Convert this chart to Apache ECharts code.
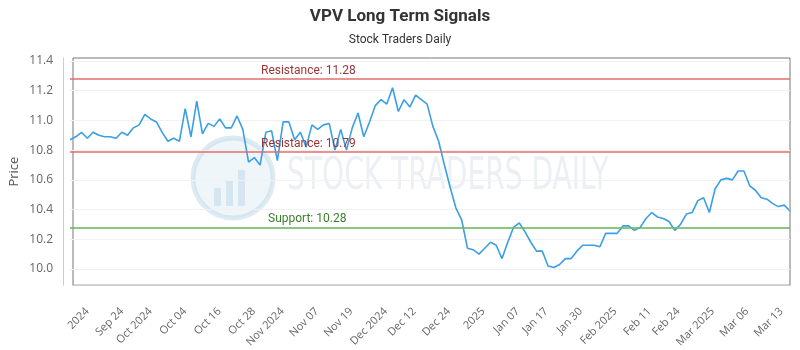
<!DOCTYPE html>
<html>
<head>
<meta charset="utf-8">
<title>VPV Long Term Signals</title>
<script src="https://cdn.jsdelivr.net/npm/echarts@6/dist/echarts.min.js"></script>
<style>
  html, body { margin: 0; padding: 0; background: #fff; }
  #main { width: 800px; height: 350px; }
</style>
</head>
<body>
<div id="main"></div>
<script>
// closing prices, one per trading day
var prices = [
  10.87, 10.89, 10.92, 10.88, 10.92, 10.90, 10.89, 10.89, 10.88, 10.92,
  10.90, 10.95, 10.97, 11.04, 11.01, 10.99, 10.92, 10.86, 10.88, 10.86,
  11.08, 10.89, 11.13, 10.91, 10.98, 10.96, 11.01, 10.95, 10.95, 11.03,
  10.94, 10.72, 10.75, 10.70, 10.92, 10.93, 10.73, 10.99, 10.99, 10.87,
  10.92, 10.82, 10.97, 10.94, 10.97, 10.98, 10.80, 10.94, 10.80, 10.95,
  11.05, 10.89, 10.99, 11.10, 11.14, 11.11, 11.22, 11.06, 11.14, 11.09,
  11.17, 11.14, 11.11, 10.96, 10.86, 10.70, 10.55, 10.41, 10.33, 10.14,
  10.13, 10.10, 10.14, 10.18, 10.16, 10.07, 10.18, 10.28, 10.31, 10.25,
  10.18, 10.12, 10.12, 10.02, 10.01, 10.03, 10.07, 10.07, 10.12, 10.16,
  10.16, 10.16, 10.15, 10.24, 10.24, 10.24, 10.29, 10.29, 10.26, 10.28,
  10.34, 10.38, 10.35, 10.34, 10.32, 10.26, 10.30, 10.37, 10.38, 10.46,
  10.48, 10.38, 10.54, 10.60, 10.61, 10.60, 10.66, 10.66, 10.56, 10.53,
  10.48, 10.47, 10.44, 10.42, 10.43, 10.39
];

// x axis labels and the point they sit on
var tickIndex = [4, 10, 15, 21, 27, 33, 38, 44, 50, 56, 61, 67, 73, 79, 84, 90, 96, 102, 107, 113, 119, 125];
var tickLabels = ['2024', 'Sep 24', 'Oct 2024', 'Oct 04', 'Oct 16', 'Oct 28', 'Nov 2024', 'Nov 07', 'Nov 19',
  'Dec 2024', 'Dec 12', 'Dec 24', '2025', 'Jan 07', 'Jan 17', 'Jan 30', 'Feb 2025', 'Feb 11', 'Feb 24',
  'Mar 2025', 'Mar 06', 'Mar 13'];

// signal levels
var resistance1 = 11.28;
var resistance2 = 10.79;
var support1 = 10.28;

var yMin = 10.0, yMax = 11.4, yStep = 0.2;

var days = prices.map(function (v, i) { return String(i); });

var myChart = echarts.init(document.getElementById('main'));

var redLine = { color: 'rgba(225,110,110,0.75)', width: 2, type: 'solid' };
var greenLine = { color: 'rgba(110,185,95,0.8)', width: 2, type: 'solid' };

var option = {
  animation: false,
  textStyle: { fontFamily: 'Open Sans' },
  title: {
    text: 'VPV Long Term Signals',
    subtext: 'Stock Traders Daily',
    left: 'center',
    top: 3,
    itemGap: 9,
    textStyle: { fontFamily: 'Roboto', fontSize: 17, fontWeight: 'bold', color: '#333' },
    subtextStyle: { fontFamily: 'Roboto', fontSize: 12, color: '#333' }
  },
  graphic: [
    // watermark logo
    { type: 'circle', shape: { cx: 233, cy: 178, r: 40 }, silent: true, z: -1,
      style: { fill: 'rgba(215,232,243,0.4)', stroke: 'rgba(190,215,232,0.5)', lineWidth: 5 } },
    { type: 'rect', shape: { x: 214, y: 188, width: 7, height: 18 }, silent: true, z: -1, style: { fill: 'rgba(190,215,232,0.5)' } },
    { type: 'rect', shape: { x: 226, y: 180, width: 7, height: 26 }, silent: true, z: -1, style: { fill: 'rgba(190,215,232,0.5)' } },
    { type: 'rect', shape: { x: 238, y: 170, width: 7, height: 36 }, silent: true, z: -1, style: { fill: 'rgba(190,215,232,0.5)' } },
    { type: 'text', left: 287, top: 156, silent: true, z: -1, scaleX: 0.71,
      style: { text: 'STOCK TRADERS DAILY', fontFamily: 'DejaVu Sans Condensed', fontSize: 44,
        fill: 'rgba(200,212,224,0.35)' } }
  ],
  grid: [
    { left: 70, right: 10, top: 58, bottom: 64, show: true, borderColor: '#777', borderWidth: 1, backgroundColor: 'transparent' },
    { left: 70, right: 10, top: 61, bottom: 81 }
  ],
  xAxis: [
    {
      gridIndex: 0,
      type: 'category',
      data: days,
      boundaryGap: false,
      offset: 10,
      axisLine: { lineStyle: { color: '#ccc' } },
      axisTick: { show: false },
      axisLabel: {
        rotate: 45,
        margin: 6,
        padding: [0, 12, 0, 0],
        fontSize: 11,
        color: '#666',
        interval: function (index) { return tickIndex.indexOf(index) >= 0; },
        formatter: function (value, index) { return tickLabels[tickIndex.indexOf(index)]; }
      },
      splitLine: { show: false }
    },
    {
      gridIndex: 1,
      type: 'category',
      data: days,
      boundaryGap: false,
      show: false
    }
  ],
  yAxis: [
    {
      gridIndex: 0,
      type: 'value',
      offset: 10,
      axisLine: { show: true, lineStyle: { color: '#ccc' } },
      axisTick: { show: false },
      axisLabel: { show: false },
      splitLine: { show: false },
      name: 'Price',
      nameLocation: 'middle',
      nameGap: 42,
      nameTextStyle: { fontSize: 13, color: '#555' }
    },
    {
      gridIndex: 1,
      type: 'value',
      min: yMin,
      max: yMax,
      interval: yStep,
      offset: 10,
      axisLine: { show: false },
      axisTick: { show: false },
      axisLabel: {
        margin: 7, fontSize: 12, color: '#666',
        formatter: function (v) { return v.toFixed(1); }
      },
      splitLine: { lineStyle: { color: '#f1f1f1' } }
    }
  ],
  series: [
    {
      name: 'VPV',
      type: 'line',
      xAxisIndex: 1,
      yAxisIndex: 1,
      data: prices,
      showSymbol: false,
      lineStyle: { color: '#3a9fe5', width: 1.6 },
      itemStyle: { color: '#3a9fe5' },
      markLine: {
        silent: true,
        symbol: 'none',
        label: {
          position: 'insideStartTop',
          distance: 2,
          fontFamily: 'Roboto',
          fontSize: 12
        },
        data: [
          { yAxis: resistance1, lineStyle: redLine,
            label: { formatter: 'Resistance: ' + resistance1, color: '#9b3535', padding: [0, 0, 0, 189] } },
          { yAxis: resistance2, lineStyle: redLine,
            label: { formatter: 'Resistance: ' + resistance2, color: '#9b3535', padding: [0, 0, 0, 189] } },
          { yAxis: support1, lineStyle: greenLine,
            label: { formatter: 'Support: ' + support1, color: '#3b7f2a', padding: [0, 0, 0, 196] } }
        ]
      }
    }
  ]
};

myChart.setOption(option);
</script>
</body>
</html>
